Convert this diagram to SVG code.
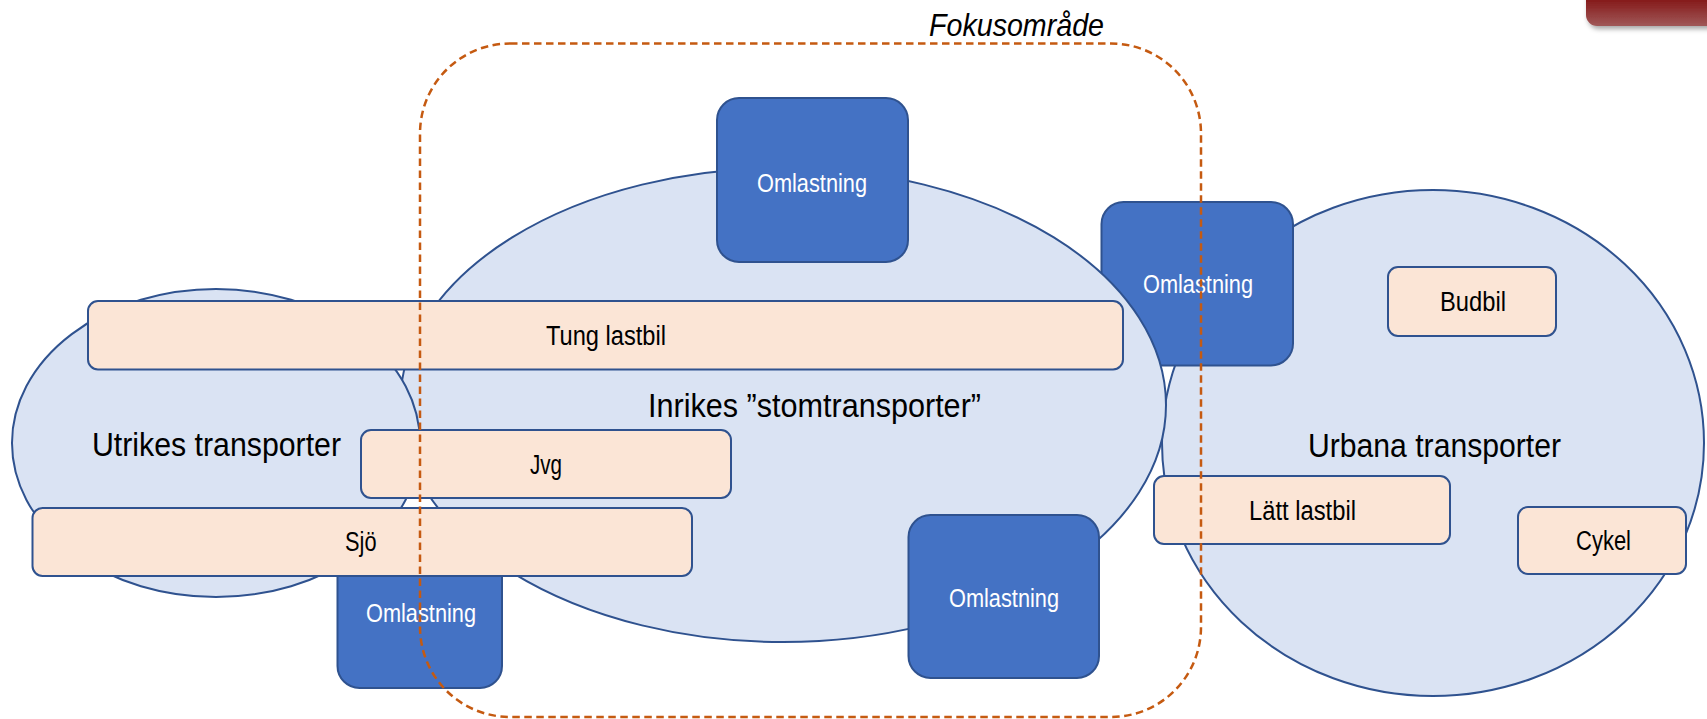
<svg xmlns="http://www.w3.org/2000/svg" width="1707" height="719" viewBox="0 0 1707 719">
<style>
.ell{fill:#DAE3F3;stroke:#2F528F;stroke-width:2}
.oml{fill:#4472C4;stroke:#2F528F;stroke-width:2}
.pea{fill:#FBE5D6;stroke:#2F528F;stroke-width:2}
.t{font-family:"Liberation Sans",Arial,sans-serif;fill:#000}
.tw{font-family:"Liberation Sans",Arial,sans-serif;fill:#FFFFFF;font-size:26px}
.tp{font-size:27px}
.te{font-size:34px}
.focus{fill:none;stroke:#C55A11;stroke-width:2.5;stroke-dasharray:7.5 4.5}
</style>
<defs>
<linearGradient id="red" x1="0" y1="0" x2="0" y2="1">
<stop offset="0" stop-color="#6E0A0A"/>
<stop offset="0.55" stop-color="#861C1C"/>
<stop offset="1" stop-color="#A05858"/>
</linearGradient>
<filter id="sh" x="-20%" y="-50%" width="140%" height="200%">
<feDropShadow dx="2" dy="3" stdDeviation="2.5" flood-color="#000" flood-opacity="0.35"/>
</filter>
</defs>
<rect width="1707" height="719" fill="#FFFFFF"/>
<g id="corner-tab">
<rect x="1586" y="-30" width="140" height="56" rx="11" fill="url(#red)" filter="url(#sh)"/>
</g>
<g id="urbana">
<ellipse class="ell" cx="1433" cy="443" rx="271" ry="253"/>
<text class="t te" x="1308" y="457" textLength="253" lengthAdjust="spacingAndGlyphs">Urbana transporter</text>
</g>
<g id="omlastning-urban">
<rect class="oml" x="1101.5" y="202" width="191.5" height="163.5" rx="22"/>
<text class="tw" x="1143" y="293" textLength="110" lengthAdjust="spacingAndGlyphs">Omlastning</text>
</g>
<g id="inrikes">
<ellipse class="ell" cx="783" cy="405" rx="383" ry="237"/>
<text class="t te" x="648" y="417" textLength="333" lengthAdjust="spacingAndGlyphs">Inrikes ”stomtransporter”</text>
</g>
<g id="utrikes">
<ellipse class="ell" cx="216" cy="443" rx="204" ry="154"/>
<text class="t te" x="92" y="456" textLength="249" lengthAdjust="spacingAndGlyphs">Utrikes transporter</text>
</g>
<g id="omlastning-top">
<rect class="oml" x="717" y="98" width="191" height="164" rx="22"/>
<text class="tw" x="757" y="191.5" textLength="110" lengthAdjust="spacingAndGlyphs">Omlastning</text>
</g>
<g id="omlastning-bottom">
<rect class="oml" x="908.5" y="515" width="190.5" height="163" rx="22"/>
<text class="tw" x="949" y="607" textLength="110" lengthAdjust="spacingAndGlyphs">Omlastning</text>
</g>
<g id="omlastning-left">
<rect class="oml" x="337.5" y="538" width="164.5" height="150" rx="22"/>
<text class="tw" x="366" y="621.5" textLength="110" lengthAdjust="spacingAndGlyphs">Omlastning</text>
</g>
<g id="tung-lastbil">
<rect class="pea" x="88" y="301" width="1035" height="68.5" rx="10"/>
<text class="t tp" x="546" y="345" textLength="120" lengthAdjust="spacingAndGlyphs">Tung lastbil</text>
</g>
<g id="jvg">
<rect class="pea" x="361" y="430" width="370" height="68" rx="10"/>
<text class="t tp" x="530" y="474" textLength="32" lengthAdjust="spacingAndGlyphs">Jvg</text>
</g>
<g id="sjo">
<rect class="pea" x="32.5" y="508" width="659.5" height="68" rx="10"/>
<text class="t tp" x="345" y="550.5" textLength="31.5" lengthAdjust="spacingAndGlyphs">Sjö</text>
</g>
<g id="latt-lastbil">
<rect class="pea" x="1154" y="476" width="296" height="68" rx="10"/>
<text class="t tp" x="1249" y="520" textLength="107" lengthAdjust="spacingAndGlyphs">Lätt lastbil</text>
</g>
<g id="budbil">
<rect class="pea" x="1388" y="267" width="168" height="69" rx="10"/>
<text class="t tp" x="1440" y="311" textLength="66" lengthAdjust="spacingAndGlyphs">Budbil</text>
</g>
<g id="cykel">
<rect class="pea" x="1518" y="507" width="168" height="67" rx="10"/>
<text class="t tp" x="1576" y="550" textLength="55" lengthAdjust="spacingAndGlyphs">Cykel</text>
</g>
<g id="connectors"></g>
<g id="fokusomrade">
<rect class="focus" x="420" y="43.5" width="781" height="673.5" rx="90" ry="90"/>
<text class="t" x="929" y="36" font-size="32" font-style="italic" textLength="175" lengthAdjust="spacingAndGlyphs">Fokusområde</text>
</g>
</svg>
